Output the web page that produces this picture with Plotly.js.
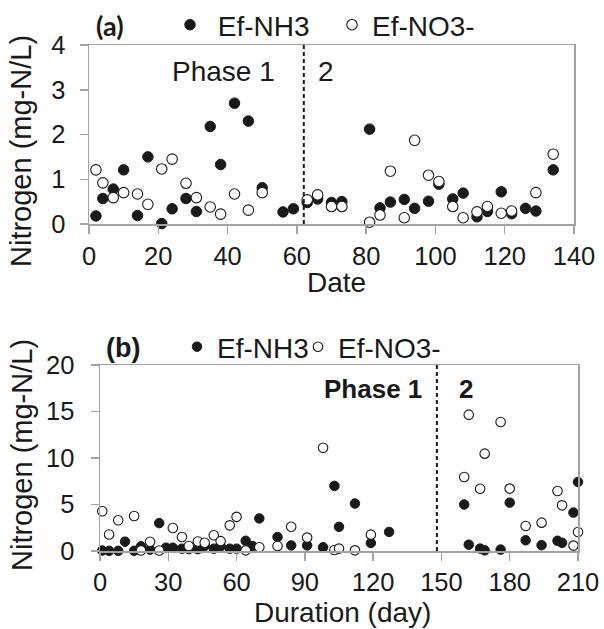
<!DOCTYPE html>
<html>
<head>
<meta charset="utf-8">
<script src="https://cdn.plot.ly/plotly-3.0.1.min.js"></script>
<style>
html,body{margin:0;padding:0;background:#fff;}
#chart{width:604px;height:629px;}
</style>
</head>
<body>
<div id="chart"></div>
<script>
// ---------- Data ----------
// Panel (a)
var topNH3x = [2,4,7,10,14,17,21,24,28,31,35,38,42,46,50,56,59,63,66,70,73,81,84,87,91,94,98,101,105,108,112,115,119,122,126,129,134];
var topNH3y = [0.18,0.57,0.78,1.21,0.19,1.50,0.01,0.34,0.57,0.28,2.18,1.33,2.70,2.30,0.81,0.27,0.34,0.48,0.56,0.48,0.50,2.12,0.36,0.49,0.55,0.35,0.51,0.89,0.56,0.69,0.16,0.28,0.72,0.23,0.35,0.29,1.21];
var topNO3x = [2,4,7,10,14,17,21,24,28,31,35,38,42,46,50,63,66,70,73,81,84,87,91,94,98,101,105,108,112,115,119,122,129,134];
var topNO3y = [1.21,0.92,0.59,0.70,0.67,0.44,1.23,1.45,0.91,0.59,0.38,0.22,0.67,0.31,0.70,0.54,0.65,0.39,0.39,0.04,0.20,1.18,0.14,1.87,1.09,0.95,0.39,0.14,0.27,0.39,0.24,0.29,0.70,1.56];
// Panel (b)
var botNH3x = [1,4,8,11,15,18,22,26,29,32,36,39,43,46,50,53,57,60,64,67,70,78,84,91,98,103,105,112,119,127,160,162,167,169,176,180,187,194,201,203,208,210];
var botNH3y = [0.05,0.02,0.02,1.0,0.02,0.5,0.15,3.0,0.35,0.35,0.25,0.2,0.2,0.54,0.25,0.5,0.25,0.25,1.1,0.54,3.5,1.5,0.6,0.6,0.4,7.0,2.6,5.1,0.86,2.05,5.0,0.68,0.26,0.07,0.15,5.2,1.15,0.62,1.1,0.88,4.13,7.42];
var botNO3x = [1,4,8,15,18,22,26,32,36,39,43,46,50,53,57,60,64,70,78,84,91,98,103,105,112,119,160,162,167,169,176,180,187,194,201,203,208,210];
var botNO3y = [4.28,1.77,3.3,3.77,0.05,1.0,0.05,2.48,1.5,0.54,1.02,0.88,1.69,1.06,2.76,3.67,0.07,0.4,0.54,2.6,1.44,11.1,0.1,0.26,0.07,1.76,7.96,14.66,6.7,10.47,13.87,6.71,2.69,3.05,6.45,4.91,0.58,2.04];

var seriesNames = ['Ef-NH3','Ef-NO3-'];
var phaseTop = 62;
var phaseBot = 148;
var topXTicks = [0,20,40,60,80,100,120,140];
var topYTicks = [0,1,2,3,4];
var botXTicks = [0,30,60,90,120,150,180,210];
var botYTicks = [0,5,10,15,20];

// ---------- Layout helpers ----------
var W = 604, H = 629;
function px(x){ return x / W; }
function py(y){ return 1 - y / H; }

var FONT = 'Liberation Sans, Arial, sans-serif';
var INK = '#1a1a1a';
var AX = '#a3a3a3';

function filled(size){ return {symbol:'circle', size:size, color:INK, line:{color:INK, width:1}}; }
function hollow(size){ return {symbol:'circle', size:size, color:'#ffffff', line:{color:INK, width:1.1}}; }

var traces = [
  {x:topNH3x, y:topNH3y, xaxis:'x', yaxis:'y', type:'scatter', mode:'markers', name:' ' + seriesNames[0], marker:filled(10.5), cliponaxis:false, legend:'legend'},
  {x:topNO3x, y:topNO3y, xaxis:'x', yaxis:'y', type:'scatter', mode:'markers', name:seriesNames[1], marker:hollow(10.5), cliponaxis:false, legend:'legend2'},
  {x:botNH3x, y:botNH3y, xaxis:'x2', yaxis:'y2', type:'scatter', mode:'markers', name:seriesNames[0], marker:filled(9.5), cliponaxis:false, legend:'legend3'},
  {x:botNO3x, y:botNO3y, xaxis:'x2', yaxis:'y2', type:'scatter', mode:'markers', name:seriesNames[1], marker:hollow(9.5), cliponaxis:false, legend:'legend4'}
];

function axisBase(){
  return {
    showgrid:false, zeroline:false, showline:true, linecolor:AX, linewidth:1.5,
    mirror:true, ticks:'outside', ticklen:8, tickwidth:1.5, tickcolor:AX,
    tickfont:{family:FONT, size:25.5, color:INK}, tickmode:'array', fixedrange:true
  };
}

var xa1 = axisBase(); xa1.domain=[px(89), px(574)]; xa1.range=[0,140]; xa1.tickvals=topXTicks; xa1.anchor='y'; xa1.ticklabelstandoff=1;
var ya1 = axisBase(); ya1.domain=[py(224), py(45)]; ya1.range=[0,4]; ya1.tickvals=topYTicks; ya1.anchor='x'; ya1.ticklabelstandoff=9;
var xa2 = axisBase(); xa2.domain=[px(100), px(578)]; xa2.range=[0,210]; xa2.tickvals=botXTicks; xa2.anchor='y2'; xa2.ticklabelstandoff=0;
var ya2 = axisBase(); ya2.domain=[py(551), py(365)]; ya2.range=[0,20]; ya2.tickvals=botYTicks; ya2.anchor='x2'; ya2.ticklabelstandoff=11;

function ann(text, x, y, size, opts){
  var a = {text:text, x:px(x), y:py(y), xref:'paper', yref:'paper', showarrow:false,
    xanchor:'center', yanchor:'middle', borderpad:0, font:{family:FONT, size:size, color:INK}};
  if (opts) for (var k in opts) { if (k==='font') { for (var f in opts.font) a.font[f]=opts.font[f]; } else a[k]=opts[k]; }
  return a;
}
// a legend holding one entry, whose symbol centre sits at (cx, cy) in pixels
function leg(cx, cy){
  return {orientation:'h', x:px(cx - 20), xanchor:'left', y:py(cy), yanchor:'middle',
    font:{family:FONT, size:28, color:INK}, bgcolor:'rgba(0,0,0,0)', borderwidth:0,
    itemclick:false, itemdoubleclick:false};
}

var layout = {
  width:W, height:H,
  margin:{l:0, r:0, t:0, b:0},
  paper_bgcolor:'#ffffff', plot_bgcolor:'#ffffff',
  xaxis:xa1, yaxis:ya1, xaxis2:xa2, yaxis2:ya2,
  showlegend:true,
  legend:leg(190, 25),
  legend2:leg(352, 25),
  legend3:leg(197, 347),
  legend4:leg(318, 347),
  shapes:[
    {type:'line', xref:'x', yref:'y', x0:phaseTop, x1:phaseTop, y0:0, y1:4, line:{color:INK, width:2, dash:'4px,3px'}},
    {type:'line', xref:'x2', yref:'y2', x0:phaseBot, x1:phaseBot, y0:0, y1:20, line:{color:INK, width:2, dash:'4px,3px'}}
  ],
  annotations:[
    ann('<b>(a)</b>', 110, 26, 27, {font:{family:'Lato, Open Sans, sans-serif'}}),
    ann('<b>(b)</b>', 123, 348, 27),
    ann('Phase 1', 223, 71, 28),
    ann('2', 326, 71, 28),
    ann('<b>Phase 1</b>', 423, 389, 26, {xanchor:'right'}),
    ann('<b>2</b>', 466, 389, 26),
    ann('Date', 336, 283, 28),
    ann('Duration (day)', 342, 628.5, 28, {yanchor:'bottom'}),
    ann('Nitrogen (mg-N/L)', 21, 151, 29, {textangle:-90}),
    ann('Nitrogen (mg-N/L)', 22, 455, 29, {textangle:-90})
  ]
};

Plotly.newPlot('chart', traces, layout, {staticPlot:true, displayModeBar:false});
</script>
</body>
</html>
